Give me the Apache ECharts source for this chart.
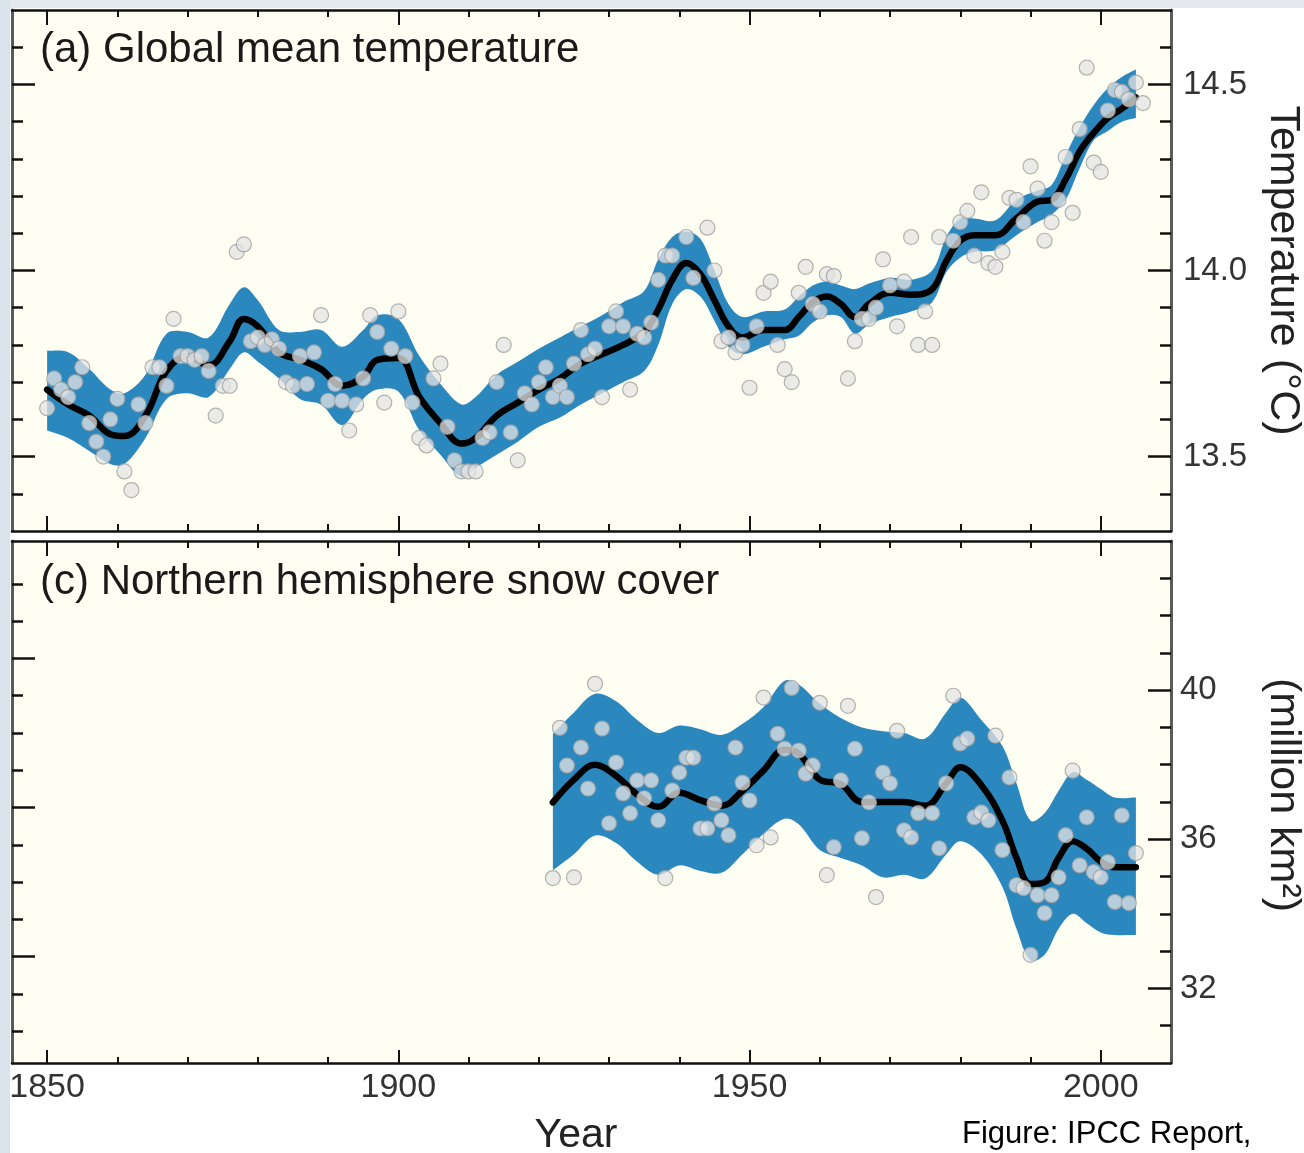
<!DOCTYPE html>
<html><head><meta charset="utf-8">
<script src="https://cdn.jsdelivr.net/npm/echarts@6/dist/echarts.min.js"></script>
<style>html,body{margin:0;padding:0;background:#fff}#c{width:1304px;height:1153px}</style>
</head><body><div id="c"></div>
<script>
// ---------------- DATA ----------------
// (a) Global mean temperature: smoothed curve and uncertainty band
const tempYears = [1850,1853,1856,1859,1861,1864,1867,1870,1873,1876,1878,1880,1883,1886,1889,1892,1895,1897,1900,1903,1906,1909,1911,1914,1917,1920,1923,1926,1929,1932,1935,1937,1939,1941,1943,1945,1947,1949,1952,1955,1957,1959,1961,1963,1965,1967,1970,1973,1976,1978,1980,1982,1985,1988,1991,1993,1995,1997,1999,2001,2003,2005];
const tempCurve = [13.68,13.64,13.61,13.56,13.555,13.61,13.73,13.77,13.745,13.81,13.87,13.85,13.78,13.76,13.735,13.69,13.715,13.76,13.765,13.66,13.59,13.535,13.55,13.61,13.645,13.68,13.71,13.75,13.775,13.80,13.835,13.895,13.975,14.02,13.99,13.92,13.85,13.82,13.84,13.84,13.875,13.915,13.93,13.91,13.875,13.91,13.94,13.935,13.95,14.025,14.08,14.095,14.095,14.14,14.185,14.19,14.245,14.32,14.37,14.41,14.435,14.465];
const tempUpper = [13.785,13.78,13.735,13.68,13.67,13.72,13.83,13.835,13.82,13.91,13.955,13.92,13.84,13.835,13.84,13.795,13.84,13.88,13.87,13.77,13.695,13.64,13.66,13.72,13.755,13.79,13.82,13.85,13.88,13.915,13.945,14.03,14.09,14.105,14.085,14.0,13.91,13.875,13.89,13.895,13.93,13.96,13.97,13.96,13.95,13.965,13.98,13.975,14.0,14.09,14.14,14.14,14.135,14.19,14.215,14.23,14.31,14.385,14.445,14.49,14.52,14.54];
const tempLower = [13.57,13.55,13.515,13.48,13.48,13.55,13.655,13.67,13.66,13.735,13.78,13.755,13.71,13.655,13.64,13.585,13.655,13.68,13.675,13.57,13.505,13.445,13.47,13.505,13.54,13.58,13.605,13.64,13.67,13.70,13.73,13.80,13.91,13.95,13.93,13.865,13.795,13.775,13.795,13.815,13.825,13.86,13.88,13.875,13.83,13.855,13.875,13.89,13.915,13.995,14.035,14.05,14.055,14.095,14.13,14.15,14.19,14.275,14.35,14.375,14.40,14.41];
// annual values (grey dots)
const tempObsYears = [1850,1851,1852,1853,1854,1855,1856,1857,1858,1859,1860,1861,1862,1863,1864,1865,1866,1867,1868,1869,1870,1871,1872,1873,1874,1875,1876,1877,1878,1879,1880,1881,1882,1883,1884,1885,1886,1887,1888,1889,1890,1891,1892,1893,1894,1895,1896,1897,1898,1899,1900,1901,1902,1903,1904,1905,1906,1907,1908,1909,1910,1911,1912,1913,1914,1915,1916,1917,1918,1919,1920,1921,1922,1923,1924,1925,1926,1927,1928,1929,1930,1931,1932,1933,1934,1935,1936,1937,1938,1939,1941,1942,1944,1945,1946,1947,1948,1949,1950,1951,1952,1953,1954,1955,1956,1957,1958,1959,1960,1961,1962,1964,1965,1966,1967,1968,1969,1970,1971,1972,1973,1974,1975,1976,1977,1979,1980,1981,1982,1983,1984,1985,1986,1987,1988,1989,1990,1991,1992,1993,1994,1995,1996,1997,1998,1999,2000,2001,2002,2003,2004,2005,2006];
const tempObs = [13.63,13.71,13.68,13.66,13.70,13.74,13.59,13.54,13.50,13.60,13.655,13.46,13.41,13.64,13.59,13.74,13.74,13.69,13.87,13.77,13.77,13.76,13.77,13.73,13.61,13.69,13.69,14.05,14.07,13.81,13.82,13.80,13.815,13.79,13.70,13.69,13.77,13.695,13.78,13.88,13.65,13.695,13.65,13.57,13.64,13.71,13.88,13.835,13.645,13.79,13.89,13.77,13.645,13.55,13.53,13.71,13.75,13.58,13.49,13.46,13.46,13.46,13.55,13.565,13.70,13.80,13.565,13.49,13.67,13.64,13.70,13.74,13.66,13.69,13.66,13.75,13.84,13.775,13.79,13.66,13.85,13.89,13.85,13.68,13.83,13.82,13.86,13.975,14.04,14.04,14.09,13.98,14.115,14.0,13.81,13.82,13.78,13.80,13.685,13.85,13.94,13.97,13.80,13.735,13.70,13.94,14.01,13.91,13.89,13.99,13.985,13.71,13.81,13.87,13.87,13.90,14.03,13.96,13.85,13.97,14.09,13.80,13.89,13.80,14.09,14.08,14.13,14.16,14.04,14.21,14.02,14.01,14.05,14.195,14.19,14.13,14.28,14.22,14.08,14.13,14.19,14.305,14.155,14.38,14.545,14.29,14.265,14.43,14.485,14.48,14.46,14.505,14.45];

// (c) Northern hemisphere snow cover
const snowYears = [1922,1925,1928,1931,1934,1937,1940,1943,1946,1949,1952,1955,1957,1960,1963,1966,1969,1972,1975,1978,1980,1983,1986,1988,1990,1992,1994,1996,1998,2000,2002,2005];
const snowCurve = [36.99,37.6,38.0,37.7,37.2,36.87,37.25,37.05,36.9,37.3,37.85,38.4,38.3,37.6,37.48,37.0,37.0,37.0,36.9,37.5,37.93,37.45,36.5,35.5,34.8,34.85,35.5,35.95,35.75,35.4,35.25,35.25];
const snowUpper = [38.83,39.4,39.9,39.7,39.2,38.85,39.05,38.95,38.8,39.1,39.55,40.25,40.15,39.64,39.25,39.0,38.9,38.85,38.7,39.4,39.8,39.2,38.5,37.5,36.5,36.7,37.3,37.8,37.6,37.35,37.12,37.12];
const snowLower = [35.17,35.6,36.1,35.9,35.4,35.05,35.3,35.15,35.1,35.6,36.15,36.55,36.4,35.71,35.5,35.3,34.98,35.05,34.95,35.6,35.95,35.6,34.72,33.6,32.75,32.9,33.6,34.0,33.75,33.5,33.43,33.43];
const snowObsYears = [1922,1923,1924,1925,1926,1927,1928,1929,1930,1931,1932,1933,1934,1935,1936,1937,1938,1939,1940,1941,1942,1943,1944,1945,1946,1947,1948,1949,1950,1951,1952,1953,1954,1955,1956,1957,1958,1959,1960,1961,1962,1963,1964,1965,1966,1967,1968,1969,1970,1971,1972,1973,1974,1976,1977,1978,1979,1980,1981,1982,1983,1984,1985,1986,1987,1988,1989,1990,1991,1992,1993,1994,1995,1996,1997,1998,1999,2000,2001,2002,2003,2004,2005];
const snowObs = [34.96,38.99,37.98,34.98,38.46,37.36,40.17,38.97,36.43,38.06,37.23,36.70,37.58,37.10,37.58,36.51,34.96,37.31,37.79,38.19,38.19,36.29,36.29,36.96,36.51,36.11,38.46,37.52,37.04,35.84,39.80,36.05,38.83,38.43,40.06,38.38,37.76,37.98,39.66,35.04,35.79,37.58,39.58,38.43,36.03,36.99,34.45,37.79,37.50,38.91,36.24,36.05,36.70,36.70,35.76,37.50,39.85,38.57,38.70,36.59,36.72,36.51,38.78,35.71,37.66,34.77,34.69,32.90,34.50,34.02,34.50,34.98,36.11,37.84,35.30,36.59,35.12,34.98,35.39,34.32,36.64,34.29,35.63];

// ticks and labels
const decadeTicks = [1850,1860,1870,1880,1890,1900,1910,1920,1930,1940,1950,1960,1970,1980,1990,2000];
const yearLabels = [1850,1900,1950,2000];
const tempMajorTicks = [13.5,14.0,14.5];
const tempMinorTicks = [13.4,13.5,13.6,13.7,13.8,13.9,14.0,14.1,14.2,14.3,14.4,14.5,14.6];
const snowMajorTicks = [32,36,40];
const snowMinorTicks = [31,32,33,34,35,36,37,38,39,40,41,42,43];
const snowLeftMajorTicks = [32.85,36.85,40.85];
const snowLeftMinorTicks = [30.85,31.85,32.85,33.85,34.85,35.85,36.85,37.85,38.85,39.85,40.85,41.85,42.85];

// ---------------- CHART ----------------
const FONT = '"Liberation Sans", Arial, Helvetica, sans-serif';
const BLUE = '#2a88be';
const PLOT_BG = '#fffef2';
const zip = (a, b) => a.map((v, i) => [v, b[i]]);

function xAx(grid, pos, ticks, len, line, extra) {
  return Object.assign({
    type: 'value', gridIndex: grid, position: pos, min: 1845, max: 2010,
    splitLine: { show: false },
    axisLine: { show: line, onZero: false, lineStyle: { color: '#111', width: 2.5 } },
    axisTick: { show: true, inside: true, length: len, customValues: ticks, lineStyle: { color: '#111', width: 2 } },
    axisLabel: { show: false }
  }, extra || {});
}
function yAx(grid, pos, min, max, ticks, len, line, extra) {
  return Object.assign({
    type: 'value', gridIndex: grid, position: pos, min: min, max: max,
    splitLine: { show: false },
    axisLine: { show: line, onZero: false, lineStyle: { color: '#5a5a5a', width: 3 } },
    axisTick: { show: true, inside: true, length: len, customValues: ticks, lineStyle: { color: '#111', width: 2.5 } },
    axisLabel: { show: false }
  }, extra || {});
}
const labelStyle = { color: '#333', fontSize: 33, fontFamily: FONT };

// uncertainty band: one smoothed polygon (upper edge forward, lower edge back)
function bandSeries(xi, yi, years, upper, lower) {
  return {
    type: 'custom', xAxisIndex: xi, yAxisIndex: yi, silent: true, z: 2, clip: true,
    data: years.map((y, i) => [y, upper[i], lower[i]]),
    encode: { x: 0, y: [1, 2] },
    renderItem: function (params, api) {
      if (params.dataIndex !== 0) return null;
      const top = years.map((y, i) => api.coord([y, upper[i]]));
      const bot = years.map((y, i) => api.coord([y, lower[i]])).reverse();
      const n = top.length;
      const pts = [top[0]].concat(top, [top[n - 1], bot[0]], bot, [bot[n - 1]]);
      return { type: 'polygon', shape: { points: pts, smooth: 0.35 }, style: { fill: BLUE } };
    }
  };
}
function curveSeries(xi, yi, years, vals) {
  return { type: 'line', xAxisIndex: xi, yAxisIndex: yi, smooth: 0.4, silent: true, showSymbol: false, symbol: 'none', z: 3,
    lineStyle: { width: 6.5, color: '#000', cap: 'round', join: 'round' }, data: zip(years, vals) };
}
function dotSeries(xi, yi, years, vals) {
  return { type: 'scatter', xAxisIndex: xi, yAxisIndex: yi, symbolSize: 15, silent: true, z: 4,
    itemStyle: { color: 'rgba(228,228,228,0.95)', borderColor: '#a0a0a0', borderWidth: 1.2 }, data: zip(years, vals) };
}

const option = {
  animation: false,
  backgroundColor: '#ffffff',
  textStyle: { fontFamily: FONT },
  title: [
    { text: '(a) Global mean temperature', left: 40, top: 29, padding: 0,
      textStyle: { fontSize: 42, fontWeight: 'normal', color: '#1a1a1a', fontFamily: FONT } },
    { text: '(c) Northern hemisphere snow cover', left: 40, top: 561, padding: 0,
      textStyle: { fontSize: 42, fontWeight: 'normal', color: '#1a1a1a', fontFamily: FONT } },
    { text: 'Figure: IPCC Report,', left: 962, top: 1119, padding: 0,
      textStyle: { fontSize: 31, fontWeight: 'normal', color: '#000', fontFamily: FONT } }
  ],
  graphic: [
    { type: 'rect', z: -10, shape: { x: 0, y: 0, width: 1304, height: 8 }, style: { fill: '#e3e9ef' } },
    { type: 'rect', z: -10, shape: { x: 0, y: 0, width: 10, height: 1153 }, style: { fill: '#dae3eb' } }
  ],
  grid: [
    { left: 12, right: 133, top: 10, height: 521, show: true, backgroundColor: PLOT_BG, borderWidth: 0, containLabel: false, outerBoundsMode: 'none' },
    { left: 12, right: 133, top: 541, height: 522, show: true, backgroundColor: PLOT_BG, borderWidth: 0, containLabel: false, outerBoundsMode: 'none' }
  ],
  xAxis: [
    xAx(0, 'bottom', decadeTicks, 7, true),
    xAx(0, 'bottom', yearLabels, 15, false),
    xAx(0, 'top', decadeTicks, 7, true),
    xAx(0, 'top', yearLabels, 15, false),
    xAx(1, 'bottom', decadeTicks, 6, true),
    xAx(1, 'bottom', yearLabels, 13, false, {
      axisLabel: { show: true, customValues: yearLabels, margin: 8, color: '#333', fontSize: 34, fontFamily: FONT,
        formatter: v => String(Math.round(v)) },
      name: 'Year', nameLocation: 'middle', nameGap: 52,
      nameTextStyle: { fontSize: 41, color: '#222', fontFamily: FONT, padding: [0, 31, 0, 0] }
    }),
    xAx(1, 'top', decadeTicks, 7, true),
    xAx(1, 'top', yearLabels, 15, false)
  ],
  yAxis: [
    yAx(0, 'right', 13.3, 14.7, tempMajorTicks, 23, true, {
      axisLabel: Object.assign({ show: true, customValues: tempMajorTicks, margin: 12, formatter: v => v.toFixed(1) }, labelStyle),
      name: 'Temperature (°C)', nameLocation: 'middle', nameRotate: -90, nameGap: 90,
      nameTextStyle: { fontSize: 43, color: '#222', fontFamily: FONT }
    }),
    yAx(0, 'right', 13.3, 14.7, tempMinorTicks, 11, false),
    yAx(0, 'left', 13.3, 14.7, tempMajorTicks, 23, true),
    yAx(0, 'left', 13.3, 14.7, tempMinorTicks, 11, false),
    yAx(1, 'right', 30, 44, snowMajorTicks, 23, true, {
      axisLabel: Object.assign({ show: true, customValues: snowMajorTicks, margin: 9, formatter: v => String(v) }, labelStyle),
      name: '(million km²)', nameLocation: 'middle', nameRotate: -90, nameGap: 90,
      nameTextStyle: { fontSize: 43, color: '#222', fontFamily: FONT, padding: [0, 14, 0, 0] }
    }),
    yAx(1, 'right', 30, 44, snowMinorTicks, 11, false),
    yAx(1, 'left', 30, 44, snowLeftMajorTicks, 23, true),
    yAx(1, 'left', 30, 44, snowLeftMinorTicks, 11, false)
  ],
  series: [
    bandSeries(0, 0, tempYears, tempUpper, tempLower),
    curveSeries(0, 0, tempYears, tempCurve),
    dotSeries(0, 0, tempObsYears, tempObs),
    bandSeries(4, 4, snowYears, snowUpper, snowLower),
    curveSeries(4, 4, snowYears, snowCurve),
    dotSeries(4, 4, snowObsYears, snowObs)
  ]
};

const chart = echarts.init(document.getElementById('c'), null, { renderer: 'canvas' });
chart.setOption(option);
</script>
</body></html>
